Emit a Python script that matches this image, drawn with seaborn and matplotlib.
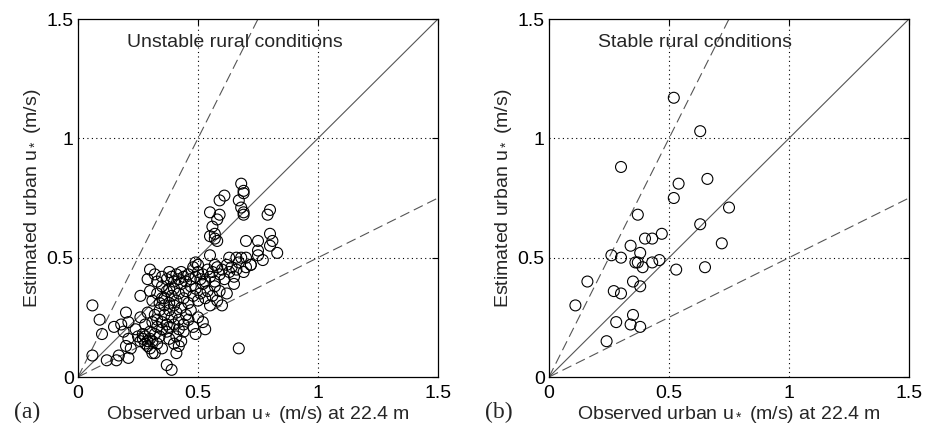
import matplotlib
matplotlib.use("Agg")
import matplotlib.pyplot as plt
import numpy as np
import pandas as pd
import seaborn as sns

sns.set_theme(style="white")
plt.rcParams["font.family"] = ["Liberation Sans", "DejaVu Sans"]
plt.rcParams["mathtext.fontset"] = "custom"
plt.rcParams["mathtext.rm"] = "Liberation Sans"
plt.rcParams["mathtext.it"] = "Liberation Sans"

# Unstable rural conditions: observed vs estimated urban u* (m/s)
unstable_obs = [
    0.06, 0.09, 0.10, 0.06, 0.12, 0.16, 0.17, 0.15, 0.18, 0.21, 0.20, 0.19, 0.21, 0.20, 0.22, 0.21, 0.24, 0.25,
    0.26, 0.27, 0.28, 0.28, 0.29, 0.29, 0.30, 0.30, 0.31, 0.31, 0.32, 0.32, 0.33, 0.27, 0.30, 0.33, 0.34, 0.35, 0.35,
    0.37, 0.39, 0.67, 0.41, 0.40, 0.42, 0.43, 0.41, 0.44, 0.38, 0.37,
    0.26, 0.28, 0.29, 0.31, 0.32, 0.33, 0.34, 0.35, 0.36, 0.37, 0.38, 0.39, 0.40, 0.41, 0.42, 0.43, 0.44, 0.45,
    0.46, 0.47, 0.48, 0.49, 0.50, 0.52, 0.53, 0.38, 0.40, 0.36, 0.42,
    0.26, 0.30, 0.31, 0.33, 0.34, 0.35, 0.36, 0.37, 0.38, 0.39, 0.40, 0.41, 0.42, 0.43, 0.44, 0.45, 0.46, 0.47,
    0.48, 0.49, 0.50, 0.51, 0.52, 0.53, 0.54, 0.55, 0.56, 0.57, 0.58, 0.59, 0.60, 0.62, 0.35, 0.38,
    0.30, 0.32, 0.29, 0.33, 0.35, 0.37, 0.38, 0.39, 0.40, 0.41, 0.42, 0.43, 0.44, 0.45, 0.46, 0.47, 0.48, 0.49,
    0.50, 0.51, 0.52, 0.53, 0.54, 0.55, 0.56, 0.57, 0.58, 0.59, 0.60, 0.61, 0.62, 0.63, 0.64, 0.65, 0.66, 0.67,
    0.69, 0.70, 0.72, 0.65, 0.66, 0.68,
    0.49, 0.50, 0.55, 0.57, 0.63, 0.70, 0.72, 0.75, 0.75, 0.77, 0.75, 0.70, 0.80, 0.81, 0.83, 0.80, 0.79, 0.80,
    0.55, 0.57, 0.58, 0.56, 0.58, 0.59, 0.55, 0.59, 0.61, 0.68, 0.69, 0.69, 0.67, 0.69, 0.68, 0.69, 0.57,
]
unstable_est = [
    0.30, 0.24, 0.18, 0.09, 0.07, 0.07, 0.09, 0.21, 0.22, 0.23, 0.27, 0.19, 0.16, 0.13, 0.12, 0.08, 0.20, 0.17,
    0.15, 0.16, 0.14, 0.17, 0.15, 0.13, 0.16, 0.12, 0.15, 0.10, 0.18, 0.10, 0.14, 0.18, 0.19, 0.21, 0.17, 0.12, 0.20,
    0.05, 0.03, 0.12, 0.10, 0.14, 0.13, 0.15, 0.17, 0.19, 0.16, 0.19,
    0.25, 0.22, 0.27, 0.23, 0.26, 0.24, 0.28, 0.23, 0.26, 0.22, 0.28, 0.25, 0.22, 0.27, 0.24, 0.29, 0.22, 0.26,
    0.24, 0.28, 0.21, 0.18, 0.25, 0.23, 0.20, 0.21, 0.30, 0.30, 0.20,
    0.34, 0.36, 0.32, 0.35, 0.31, 0.38, 0.33, 0.36, 0.31, 0.34, 0.37, 0.32, 0.35, 0.39, 0.33, 0.36, 0.31, 0.38,
    0.34, 0.37, 0.32, 0.35, 0.39, 0.33, 0.36, 0.30, 0.34, 0.38, 0.32, 0.36, 0.30, 0.35, 0.33, 0.37,
    0.45, 0.43, 0.41, 0.40, 0.42, 0.41, 0.44, 0.42, 0.40, 0.43, 0.41, 0.44, 0.42, 0.40, 0.43, 0.41, 0.46, 0.42,
    0.44, 0.41, 0.43, 0.40, 0.45, 0.42, 0.44, 0.40, 0.46, 0.43, 0.45, 0.41, 0.47, 0.44, 0.46, 0.42, 0.45, 0.48,
    0.44, 0.46, 0.47, 0.39, 0.50, 0.50,
    0.48, 0.47, 0.51, 0.47, 0.50, 0.50, 0.47, 0.51, 0.53, 0.49, 0.57, 0.57, 0.55, 0.57, 0.52, 0.60, 0.68, 0.70,
    0.59, 0.58, 0.57, 0.63, 0.66, 0.68, 0.69, 0.74, 0.76, 0.81, 0.78, 0.77, 0.74, 0.69, 0.71, 0.68, 0.60,
]

# Stable rural conditions
stable_obs = [
    0.52, 0.63, 0.30, 0.54, 0.66, 0.52, 0.75, 0.37, 0.63, 0.47, 0.40, 0.43,
    0.34, 0.72, 0.38, 0.26, 0.30, 0.46, 0.43, 0.36, 0.37, 0.39, 0.53, 0.65,
    0.16, 0.35, 0.38, 0.27, 0.30, 0.11, 0.35, 0.28, 0.34, 0.38, 0.24,
]
stable_est = [
    1.17, 1.03, 0.88, 0.81, 0.83, 0.75, 0.71, 0.68, 0.64, 0.60, 0.58, 0.58,
    0.55, 0.56, 0.52, 0.51, 0.50, 0.49, 0.48, 0.48, 0.48, 0.46, 0.45, 0.46,
    0.40, 0.40, 0.38, 0.36, 0.35, 0.30, 0.26, 0.23, 0.22, 0.21, 0.15,
]

# Reference lines y = r * x
ratios = [0.5, 1.0, 2.0]
ticks = [0, 0.5, 1, 1.5]
tick_labels = ["0", "0.5", "1", "1.5"]

panels = [
    ("(a)", "Unstable rural conditions", unstable_obs, unstable_est),
    ("(b)", "Stable rural conditions", stable_obs, stable_est),
]

fig = plt.figure(figsize=(9.25, 4.3), dpi=100)
lefts = [78 / 925, 549 / 925]
fs = 14

for left, (tag, title, xo, ye) in zip(lefts, panels):
    ax = fig.add_axes([left, 53 / 430, 360 / 925, 358 / 430])
    xs = np.linspace(0, 1.5, 200)
    for r in ratios:
        line = pd.DataFrame({"x": xs, "y": r * xs})
        if r == 1.0:
            ax.plot(line["x"], line["y"], color="#555555", lw=0.8, zorder=1)
        else:
            ax.plot(line["x"], line["y"], color="#555555", lw=0.8,
                    dashes=(9, 4.5), zorder=1)
    df = pd.DataFrame({"obs": xo, "est": ye})
    sns.scatterplot(data=df, x="obs", y="est", ax=ax, marker="o", s=62,
                    facecolor="none", edgecolor="black", linewidth=0.8, zorder=3)
    ax.set_xlim(0, 1.5)
    ax.set_ylim(0, 1.5)
    ax.set_xticks(ticks)
    ax.set_yticks(ticks)
    ax.set_xticklabels(tick_labels, fontsize=fs)
    ax.set_yticklabels(tick_labels, fontsize=fs)
    ax.tick_params(direction="in", length=4, width=0.8, top=True, right=True,
                   colors="black")
    ax.tick_params(axis="x", pad=6)
    ax.tick_params(axis="y", pad=3)
    for v in [0.5, 1.0]:
        ax.axvline(v, color="black", lw=0.8, ls=(0, (1, 3)), zorder=0)
        ax.axhline(v, color="black", lw=0.8, ls=(0, (1, 3)), zorder=0)
    for sp in ax.spines.values():
        sp.set_color("black")
        sp.set_linewidth(0.9)
    ax.set_xlabel("Observed urban u$_*$ (m/s) at 22.4 m", fontsize=fs, labelpad=1)
    ax.set_ylabel("Estimated urban u$_*$ (m/s)", fontsize=fs, labelpad=3)
    ax.text(0.204, 1.40, title, fontsize=fs, va="center", ha="left")
    ax.text(-0.178, -0.098, tag, transform=ax.transAxes, fontsize=17,
            family="Liberation Serif", va="center", ha="left")

fig.savefig("out.png", dpi=100, facecolor="white")
